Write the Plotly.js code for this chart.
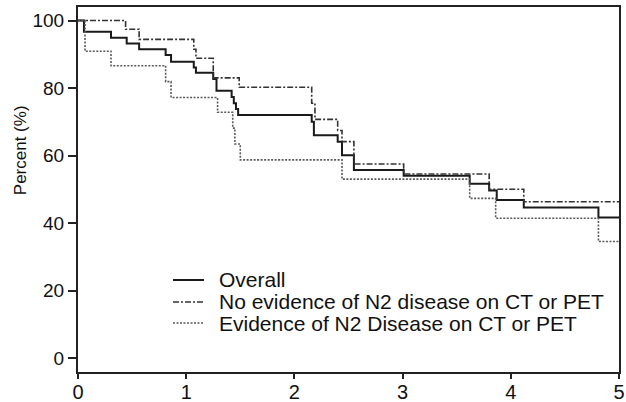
<!DOCTYPE html>
<html>
<head>
<meta charset="utf-8">
<script src="https://cdn.plot.ly/plotly-3.0.1.min.js"></script>
<style>html,body{margin:0;padding:0;background:#fff;}#chart{width:626px;height:402px;}</style>
</head>
<body>
<div id="chart"></div>
<script>
// Kaplan-Meier step data (years, percent surviving)
const overallT = [0, 0.055, 0.305, 0.45, 0.565, 0.81, 0.86, 1.07, 1.09, 1.25, 1.28, 1.42, 1.44, 1.46, 1.48, 2.16, 2.18, 2.40, 2.44, 2.55, 3.01, 3.62, 3.80, 3.87, 4.12, 4.81, 5.0];
const overallS = [100, 96.7, 94.9, 93.2, 91.5, 89.8, 87.8, 86.1, 84.5, 82.7, 79.2, 77.3, 75.5, 73.8, 72.0, 70.0, 66.0, 64.1, 60.1, 55.7, 54.0, 51.6, 49.6, 46.8, 44.6, 41.6, 41.6];

const noEvT = [0, 0.44, 0.565, 1.07, 1.09, 1.25, 1.49, 2.16, 2.19, 2.40, 2.44, 2.55, 3.01, 3.80, 4.12, 5.0];
const noEvS = [100, 97.4, 94.4, 91.5, 88.8, 83.0, 80.2, 75.5, 70.7, 67.4, 64.1, 57.5, 54.5, 50.0, 46.3, 46.3];

const evT = [0, 0.065, 0.305, 0.81, 0.86, 1.29, 1.43, 1.45, 1.50, 2.44, 3.62, 3.86, 4.81, 5.0];
const evS = [100, 90.9, 86.6, 81.9, 77.2, 72.8, 68.1, 63.4, 58.7, 53.0, 47.3, 41.4, 34.5, 34.5];

const seriesNames = ["Overall", "No evidence of N2 disease on CT or PET", "Evidence of N2 Disease on CT or PET"];
const xTicks = [0, 1, 2, 3, 4, 5];
const yTicks = [0, 20, 40, 60, 80, 100];
const yTitle = "Percent (%)";

const lineStyles = [
  {shape: "hv", color: "#1a1a1a", width: 2},
  {shape: "hv", color: "#333333", width: 1.6, dash: "6px,2px,2px,2px"},
  {shape: "hv", color: "#5a5a5a", width: 1.6, dash: "2px,1.5px"}
];
const seriesX = [overallT, noEvT, evT];
const seriesY = [overallS, noEvS, evS];

const traces = seriesNames.map((n, i) => ({
  x: seriesX[i], y: seriesY[i], name: n, mode: "lines", line: lineStyles[i]
}));

// Legend placed inside the plot (paper coords), drawn with shapes + annotations
const legRowY = [0.2521, 0.1918, 0.1342];
const legLineX = [0.1756, 0.2329];
const legTextX = 0.2575;

const shapes = legRowY.map((yy, i) => ({
  type: "line", xref: "paper", yref: "paper",
  x0: legLineX[0], x1: legLineX[1], y0: yy, y1: yy,
  line: {color: lineStyles[i].color, width: lineStyles[i].width, dash: lineStyles[i].dash || "solid"}
}));

const annotations = legRowY.map((yy, i) => ({
  text: seriesNames[i], xref: "paper", yref: "paper", x: legTextX, y: yy,
  xanchor: "left", yanchor: "middle", showarrow: false,
  font: {size: 21, color: "#111"}
}));
annotations.push({text: yTitle, xref: "paper", yref: "paper", x: -0.107, y: 0.608,
                  xanchor: "center", yanchor: "middle", textangle: -90, showarrow: false,
                  font: {size: 17, color: "#111"}});

const layout = {
  width: 626, height: 402,
  margin: {l: 78, r: 7, t: 7, b: 30},
  paper_bgcolor: "#fff", plot_bgcolor: "#fff",
  font: {family: "Liberation Sans, Arial, sans-serif", color: "#111"},
  showlegend: false,
  xaxis: {range: [0, 5], tickvals: xTicks, ticktext: xTicks.map(String),
          showgrid: false, zeroline: false, showline: true, linecolor: "#222", linewidth: 2,
          mirror: true, ticks: "outside", ticklen: 5, tickwidth: 2, tickcolor: "#222",
          ticklabelstandoff: -4,
          tickfont: {size: 20, color: "#111"}},
  yaxis: {range: [-4.15, 104], tickvals: yTicks, ticktext: yTicks.map(String),
          showgrid: false, zeroline: false, showline: true, linecolor: "#222", linewidth: 2,
          mirror: true, ticks: "outside", ticklen: 8, tickwidth: 2, tickcolor: "#222",
          tickfont: {size: 19, color: "#111"}},
  shapes: shapes,
  annotations: annotations
};

Plotly.newPlot("chart", traces, layout, {displayModeBar: false, staticPlot: true});
</script>
</body>
</html>
